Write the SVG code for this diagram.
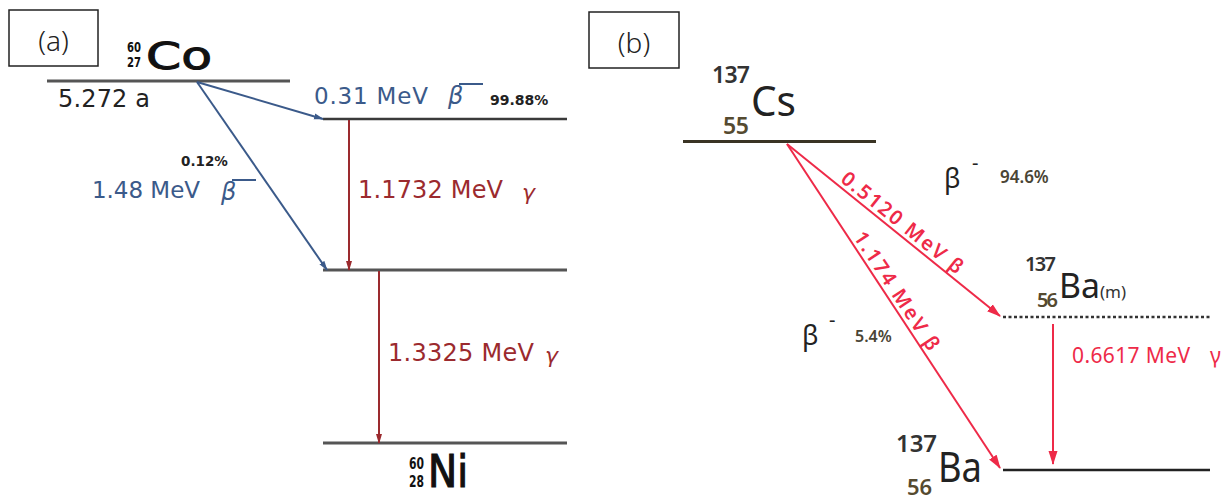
<svg xmlns="http://www.w3.org/2000/svg" width="1226" height="502" viewBox="0 0 1226 502">
<style>
.lab{font-family:"Noto Sans","Liberation Sans",sans-serif;font-size:28px;fill:#222;font-weight:300}
.dv{font-family:"DejaVu Sans","Liberation Sans",sans-serif}
.blue{fill:#3b5a8a}
.dred{fill:#9b2a2e}
.ns{font-family:"Noto Sans","Open Sans",sans-serif}
.bred{fill:#ee2a48}
.olive{fill:#4a4535}
.lvlA{stroke:#555;stroke-width:3}
.lvlA2{stroke:#3a3a3a;stroke-width:2.5}
</style>
<defs>
<marker id="mb" markerWidth="10" markerHeight="8" refX="9" refY="4" orient="auto" markerUnits="userSpaceOnUse"><path d="M0,1 L10,4 L0,7 z" fill="#3b5a8a"/></marker>
<marker id="mdr" markerWidth="10" markerHeight="8" refX="9" refY="4" orient="auto" markerUnits="userSpaceOnUse"><path d="M0,1 L10,4 L0,7 z" fill="#9b2a2e"/></marker>
<marker id="mbr" markerWidth="14" markerHeight="10" refX="13" refY="5" orient="auto" markerUnits="userSpaceOnUse"><path d="M0,0.5 L14,5 L0,9.5 z" fill="#ee2a48"/></marker>
</defs>
<rect width="1226" height="502" fill="#fff"/>

<g id="panel-a-label">
<rect x="9" y="10" width="89" height="56" fill="#fff" stroke="#222" stroke-width="1.5"/>
<text class="lab" x="53.5" y="51" text-anchor="middle">(a)</text>
</g>

<g id="co60">
<line class="lvlA" x1="47" y1="81" x2="290" y2="81"/>
<text class="dv" x="127" y="52" font-size="14" font-weight="bold" fill="#111" textLength="14" lengthAdjust="spacingAndGlyphs">60</text>
<text class="dv" x="127" y="67" font-size="14" font-weight="bold" fill="#111" textLength="14" lengthAdjust="spacingAndGlyphs">27</text>
<text class="dv" x="146" y="69" font-size="37" fill="#111" stroke="#111" stroke-width="1" textLength="66" lengthAdjust="spacingAndGlyphs">Co</text>
<text class="dv" x="58" y="107" font-size="24" fill="#222" textLength="92">5.272 a</text>
</g>

<g id="level-a2">
<line class="lvlA2" x1="323" y1="119" x2="567" y2="119"/>
</g>
<g id="level-a3">
<line class="lvlA" x1="323" y1="270" x2="567" y2="270"/>
</g>
<g id="ni60">
<line class="lvlA" x1="323" y1="443" x2="567" y2="443"/>
<text class="dv" x="409" y="469" font-size="15" font-weight="bold" fill="#111" textLength="15" lengthAdjust="spacingAndGlyphs">60</text>
<text class="dv" x="409" y="487" font-size="15" font-weight="bold" fill="#111" textLength="15" lengthAdjust="spacingAndGlyphs">28</text>
<text class="dv" x="428" y="487" font-size="45" fill="#111" stroke="#111" stroke-width="1.2" textLength="40" lengthAdjust="spacingAndGlyphs">Ni</text>
</g>

<g id="connectors">
<line x1="197" y1="82" x2="323" y2="119" stroke="#3b5a8a" stroke-width="2" marker-end="url(#mb)"/>
<line x1="197" y1="82" x2="327" y2="270" stroke="#3b5a8a" stroke-width="2" marker-end="url(#mb)"/>
<line x1="349" y1="120" x2="349" y2="270" stroke="#9b2a2e" stroke-width="2" marker-end="url(#mdr)"/>
<line x1="379" y1="271" x2="379" y2="443" stroke="#9b2a2e" stroke-width="2" marker-end="url(#mdr)"/>
<line x1="787" y1="144" x2="1000" y2="316" stroke="#ee2a48" stroke-width="2" marker-end="url(#mbr)"/>
<line x1="787" y1="144" x2="1000" y2="468" stroke="#ee2a48" stroke-width="2" marker-end="url(#mbr)"/>
<line x1="1053" y1="324" x2="1053" y2="464" stroke="#ee2a48" stroke-width="2" marker-end="url(#mbr)"/>
</g>

<g id="labels-a">
<text class="dv blue" x="314" y="104" font-size="23" textLength="114">0.31 MeV</text>
<text class="dv blue" x="448" y="104" font-size="24" font-style="italic">β</text>
<line x1="459" y1="84" x2="483" y2="84" stroke="#3b5a8a" stroke-width="2"/>
<text class="dv" x="490" y="105" font-size="14" font-weight="bold" fill="#222">99.88%</text>
<text class="dv" x="181" y="166" font-size="13.5" font-weight="bold" fill="#222">0.12%</text>
<text class="dv blue" x="92" y="198" font-size="23" textLength="108">1.48 MeV</text>
<text class="dv blue" x="221" y="200" font-size="24" font-style="italic">β</text>
<line x1="232" y1="180" x2="256" y2="180" stroke="#3b5a8a" stroke-width="2"/>
<text class="dv dred" x="358" y="198" font-size="24" textLength="145">1.1732 MeV</text>
<text class="dv dred" x="522" y="200" font-size="22" font-style="italic">γ</text>
<text class="dv dred" x="388" y="361" font-size="24" textLength="146">1.3325 MeV</text>
<text class="dv dred" x="545" y="363" font-size="22" font-style="italic">γ</text>
</g>

<g id="panel-b-label">
<rect x="589" y="12" width="90" height="56" fill="#fff" stroke="#222" stroke-width="1.5"/>
<text class="lab" x="634" y="53" text-anchor="middle">(b)</text>
</g>

<g id="cs137">
<line x1="683" y1="141.5" x2="876" y2="141.5" stroke="#3a3424" stroke-width="3"/>
<text class="ns" x="712" y="83" font-size="23" fill="#333" font-weight="600" textLength="38">137</text>
<text class="ns" x="723" y="134" font-size="23" fill="#554a30" font-weight="600" textLength="26">55</text>
<text class="ns" x="751" y="116" font-size="41" fill="#222" textLength="45" lengthAdjust="spacingAndGlyphs">Cs</text>
</g>

<g id="ba137m">
<line x1="1003" y1="317" x2="1211" y2="317" stroke="#333" stroke-width="2.5" stroke-dasharray="3 2.5"/>
<text class="ns" x="1025" y="271" font-size="20" fill="#333" font-weight="600" textLength="31">137</text>
<text class="ns" x="1037" y="307" font-size="20" fill="#554a30" font-weight="600" textLength="21">56</text>
<text class="ns" x="1059" y="298" font-size="34" fill="#222" textLength="41" lengthAdjust="spacingAndGlyphs">Ba</text>
<text class="ns" x="1100" y="298" font-size="17" fill="#333">(m)</text>
</g>

<g id="ba137">
<line x1="1003" y1="470" x2="1210" y2="470" stroke="#222" stroke-width="2.5"/>
<text class="ns" x="896" y="452" font-size="24" fill="#333" font-weight="600" textLength="41">137</text>
<text class="ns" x="907" y="495" font-size="22" fill="#554a30" font-weight="600">56</text>
<text class="ns" x="938" y="482" font-size="42" fill="#222" textLength="44" lengthAdjust="spacingAndGlyphs">Ba</text>
</g>

<g id="labels-b">
<text class="ns" x="944" y="188" font-size="27" fill="#222">β</text>
<text class="ns" x="972" y="170" font-size="20" fill="#222">-</text>
<text class="ns olive" x="1000" y="183" font-size="17" font-weight="600">94.6%</text>
<text class="ns" x="802" y="345" font-size="27" fill="#222">β</text>
<text class="ns" x="829" y="327" font-size="20" fill="#222">-</text>
<text class="ns olive" x="855" y="342" font-size="16" font-weight="600">5.4%</text>
<text class="ns bred" transform="translate(787,144) rotate(38.76)" x="64" y="-4" font-size="20" font-weight="600" textLength="150">0.5120 MeV β</text>
<text class="ns bred" transform="translate(787,144) rotate(56.6)" x="114" y="-4" font-size="20" font-weight="600" textLength="138">1.174 MeV β</text>
<text class="ns bred" x="1072" y="363" font-size="21" textLength="118">0.6617 MeV</text>
<text class="ns bred" x="1210" y="363" font-size="21">γ</text>
</g>
</svg>
